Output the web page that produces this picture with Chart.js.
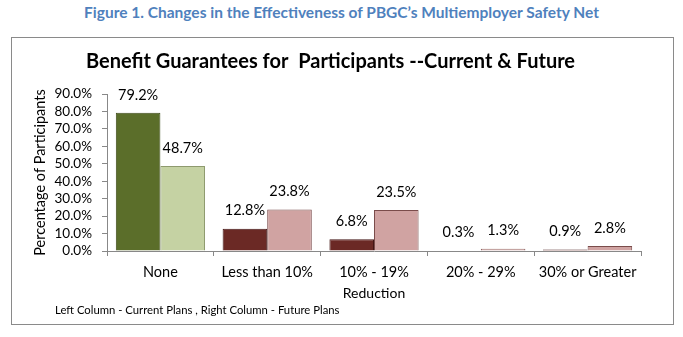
<!DOCTYPE html>
<html>
<head>
<meta charset="utf-8">
<script src="https://cdn.jsdelivr.net/npm/chart.js@4"></script>
<style>
    body { margin: 0; background: #fff; }
    #wrap { position: relative; width: 683px; height: 337px; overflow: hidden; }
    #figTitle {
        position: absolute; left: 0; top: 3px; width: 683px; text-align: center;
        font: bold 15.5px Lato, sans-serif; color: #4f81bd;
    }
    #box {
        position: absolute; left: 11px; top: 37px; width: 661px; height: 286px;
        border: 1px solid #8a8a8a;
    }
    #note {
        position: absolute; left: 55px; top: 303px;
        font: 11.3px Lato, sans-serif; color: #000;
    }
    #chart { position: absolute; left: 0; top: 0; }
</style>
</head>
<body>
<div id="wrap">
    <div id="figTitle">Figure 1. Changes in the Effectiveness of PBGC’s Multiemployer Safety Net</div>
    <div id="box"></div>
    <canvas id="chart" width="683" height="337"></canvas>
    <div id="note">Left Column - Current Plans , Right Column - Future Plans</div>
</div>
<script>
const categories = ['None', 'Less than 10%', '10% - 19%', '20% - 29%', '30% or Greater'];
const currentPlans = [79.2, 12.8, 6.8, 0.3, 0.9];
const futurePlans = [48.7, 23.8, 23.5, 1.3, 2.8];
const yMax = 90;
const yStep = 10;

// first group is green, the others red
const currentColors = ['#5b6e2a', '#6b2925', '#6b2925', '#6b2925', '#6b2925'];
const currentBorders = ['#3e4b1b', '#431514', '#431514', '#431514', '#431514'];
const futureColors = ['#c5d2a3', '#d0a3a2', '#d0a3a2', '#d0a3a2', '#d0a3a2'];
const futureBorders = ['#8e9a6e', '#7a4c4b', '#7a4c4b', '#7a4c4b', '#7a4c4b'];

// value labels above each bar
const barLabels = {
    id: 'barLabels',
    afterDatasetsDraw(chart) {
        const ctx = chart.ctx;
        ctx.save();
        ctx.font = '14.5px Lato, sans-serif';
        ctx.fillStyle = '#000';
        ctx.textAlign = 'center';
        ctx.textBaseline = 'middle';
        chart.data.datasets.forEach((ds, i) => {
            chart.getDatasetMeta(i).data.forEach((bar, j) => {
                ctx.fillText(ds.data[j].toFixed(1) + '%', bar.x, bar.y - 18);
            });
        });
        ctx.restore();
    }
};

new Chart(document.getElementById('chart'), {
    type: 'bar',
    data: {
        labels: categories,
        datasets: [
            {
                label: 'Current Plans',
                data: currentPlans,
                backgroundColor: currentColors,
                borderColor: currentBorders,
                borderWidth: 1
            },
            {
                label: 'Future Plans',
                data: futurePlans,
                backgroundColor: futureColors,
                borderColor: futureBorders,
                borderWidth: 1
            }
        ]
    },
    options: {
        responsive: false,
        animation: false,
        categoryPercentage: 0.835,
        barPercentage: 1,
        layout: { padding: { left: 20, right: 42, top: 0, bottom: 35 } },
        plugins: {
            legend: { display: false },
            tooltip: { enabled: false },
            title: {
                display: true,
                text: 'Benefit Guarantees for  Participants --Current & Future',
                color: '#000',
                font: { family: 'Lato, sans-serif', size: 20, weight: 'bold', lineHeight: 1.2 },
                padding: { top: 50, bottom: 20 }
            }
        },
        scales: {
            x: {
                afterFit: (scale) => { scale.height = 51; },
                grid: { drawOnChartArea: false, tickLength: 5, color: '#888' },
                border: { color: '#888' },
                ticks: { color: '#000', padding: 8, font: { family: 'Lato, sans-serif', size: 14.5 } },
                title: {
                    display: true,
                    text: 'Reduction',
                    color: '#000',
                    font: { family: 'Lato, sans-serif', size: 14 },
                    padding: 0
                }
            },
            y: {
                min: 0,
                max: yMax,
                afterFit: (scale) => { scale.width = 87; },
                grid: { drawOnChartArea: false, tickLength: 5, color: '#888' },
                border: { color: '#888' },
                ticks: {
                    stepSize: yStep,
                    autoSkip: false,
                    color: '#000',
                    padding: 10,
                    font: { family: 'Lato, sans-serif', size: 13.5 },
                    callback: (v) => v.toFixed(1) + '%'
                },
                title: {
                    display: true,
                    text: 'Percentage of Participants',
                    color: '#000',
                    font: { family: 'Lato, sans-serif', size: 14.5 },
                    padding: { top: 12, bottom: 0 }
                }
            }
        }
    },
    plugins: [barLabels]
});
</script>
</body>
</html>
